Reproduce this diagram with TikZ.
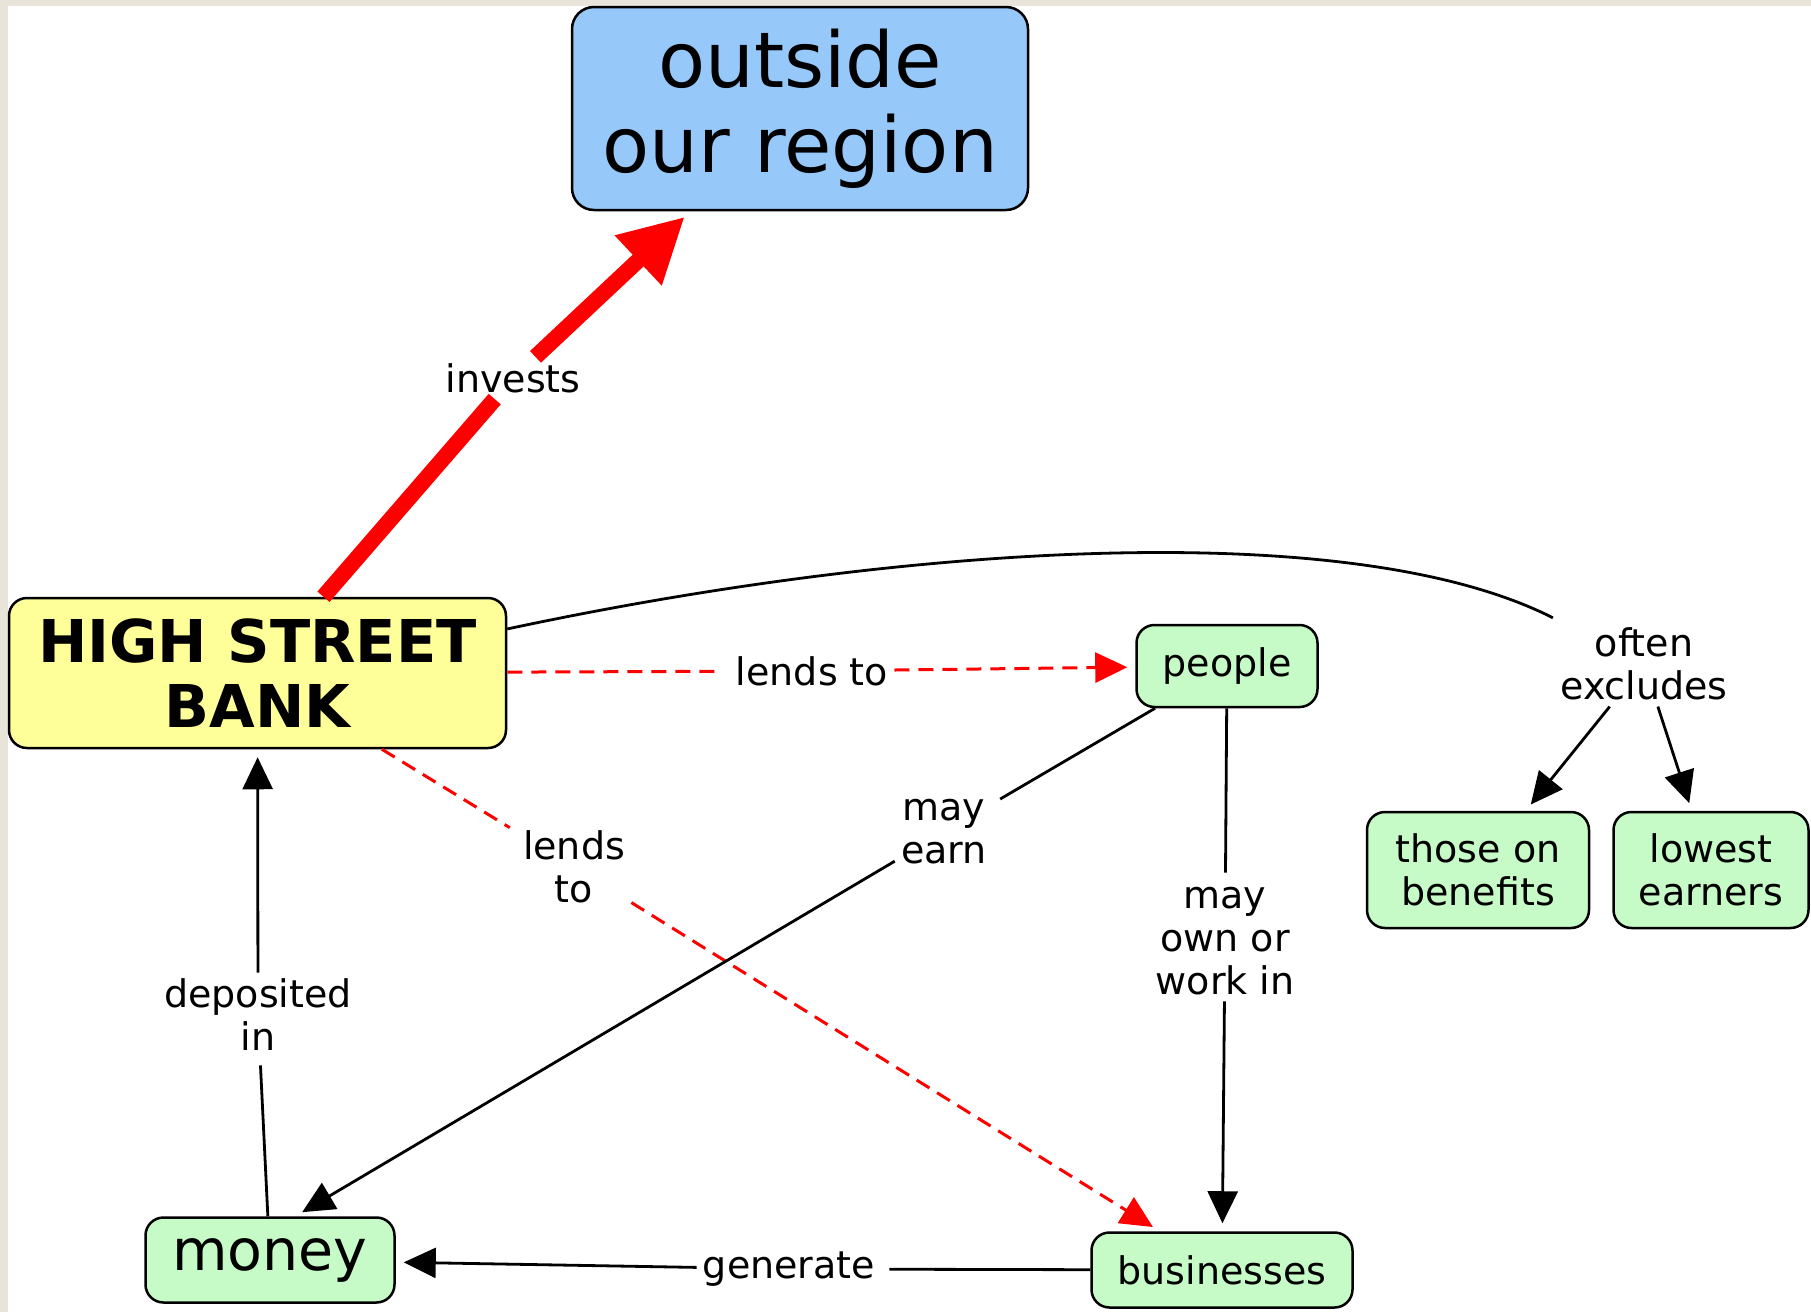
\documentclass[tikz,border=0pt]{standalone}
\usepackage{fontspec}
\setmainfont{DejaVu Sans}
\usetikzlibrary{arrows.meta}
\definecolor{bluebox}{RGB}{150,200,250}
\definecolor{yellowbox}{RGB}{255,255,153}
\definecolor{greenbox}{RGB}{198,250,198}
\definecolor{paper}{RGB}{232,228,218}
\tikzset{>={Triangle[length=16pt,width=15pt]}}
\tikzset{
  box/.style={draw, line width=1.25pt, rounded corners=9pt, align=center, inner sep=0pt},
  gbox/.style={box, fill=greenbox, font=\fontsize{19pt}{21.5pt}\selectfont},
  lbl/.style={align=center, inner sep=3pt, font=\fontsize{19pt}{21.5pt}\selectfont},
  link/.style={line width=1.4pt, shorten >=4pt},
  rlink/.style={link, red, line width=1.5pt, dash pattern=on 7.5pt off 4.5pt}
}

\begin{document}
\begin{tikzpicture}[x=0.5pt,y=-0.5pt]
\fill[paper] (0,0) rectangle (1811,1312);
\fill[white] (8,6) rectangle (1811,1312);
\useasboundingbox (0,0) rectangle (1811,1312);
\node[box, fill=bluebox, rounded corners=11pt, minimum width=228pt, minimum height=101.5pt, font=\fontsize{38.5pt}{42.5pt}\selectfont] (R) at (800,108.5) {outside\\our region};
\node[box, fill=yellowbox, minimum width=248.5pt, minimum height=75pt, font=\bfseries\fontsize{29.5pt}{32.5pt}\selectfont] (B) at (257.5,673) {HIGH STREET\\BANK};
\node[gbox, minimum width=90.5pt, minimum height=41pt] (P) at (1227,666) {people};
\node[gbox, minimum width=111pt, minimum height=58pt] (T) at (1478,870) {those on\\benefits};
\node[gbox, minimum width=97.5pt, minimum height=58pt] (L) at (1711,870) {lowest\\earners};
\node[gbox, minimum width=124.5pt, minimum height=42.5pt, font=\fontsize{28.5pt}{32pt}\selectfont] (M) at (270,1260) {money};
\node[gbox, minimum width=130.5pt, minimum height=37.5pt] (S) at (1222,1270) {businesses};
\node[lbl] (inv) at (513,378) {invests};
\node[lbl] (lp) at (812,671) {lends to};
\node[lbl] (ls) at (574,867) {lends\\to};
\node[lbl] (earn) at (944,832) {may\\earn};
\node[lbl] (own) at (1225,941) {may\\own or\\work in};
\node[lbl] (dep) at (258,1015) {deposited\\in};
\node[lbl] (gen) at (789,1269) {generate};
\node[lbl] (ex) at (1644,664) {often\\excludes};
\draw[red, line width=8pt] (B) -- (inv);
\draw[red, line width=8pt, -{Triangle[length=32pt,width=32pt]}, shorten >=4pt] (inv) -- (R);
\draw[rlink] (B) -- (lp);
\draw[rlink, ->] (lp) -- (P);
\draw[rlink] (B) -- (ls);
\draw[rlink, ->] (ls) -- (S);
\draw[link] (P) -- (earn);
\draw[link, ->] (earn) -- (M.60);
\draw[link] (P) -- (own);
\draw[link, ->] (own) -- (S);
\draw[link] (M) -- (dep);
\draw[link, ->] (dep) -- (B);
\draw[link] (S) -- (gen);
\draw[link, ->] (gen) -- (M);
\draw[link] (B.10) .. controls (900,545) and (1350,515) .. (ex);
\draw[link, ->] (ex) -- (T);
\draw[link, ->] (ex) -- (L);
\end{tikzpicture}
\end{document}
